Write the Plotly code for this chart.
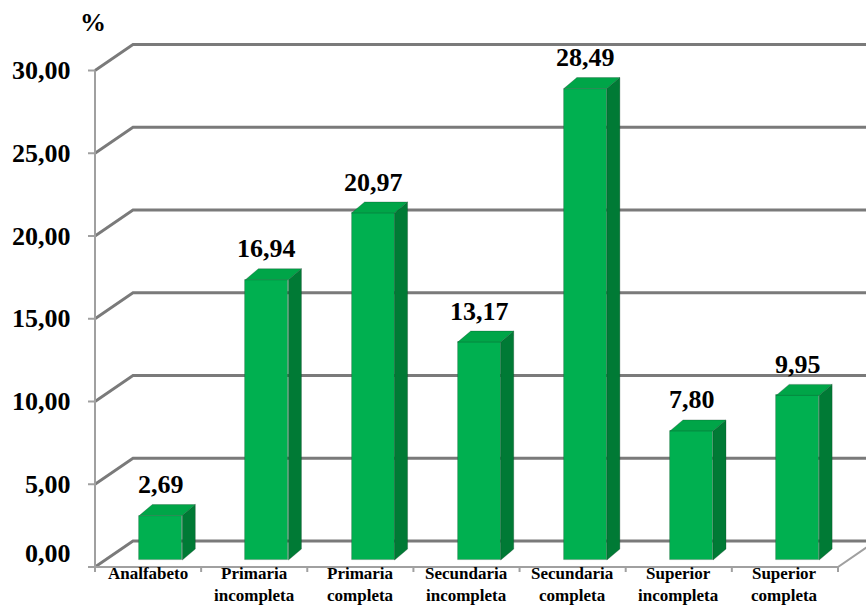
import plotly.graph_objects as go

# Nivel de instrucción (%)
categories = ["Analfabeto", "Primaria<br>incompleta", "Primaria<br>completa",
              "Secundaria<br>incompleta", "Secundaria<br>completa",
              "Superior<br>incompleta", "Superior<br>completa"]
values = [2.69, 16.94, 20.97, 13.17, 28.49, 7.80, 9.95]
y_ticks = [0, 5, 10, 15, 20, 25, 30]
y_tick_labels = ["0,00", "5,00", "10,00", "15,00", "20,00", "25,00", "30,00"]

W, H = 866, 608
# pixel scale of the data axes (category unit / value unit)
PX_CAT = 106.14
PX_VAL = 16.55
X0_PX = 95.0      # front-left corner of the floor
Y0_PX = 567.0     # front floor level

x_range = [-0.5 - X0_PX / PX_CAT, -0.5 + (W - X0_PX) / PX_CAT]
y_range = [-(H - Y0_PX) / PX_VAL, Y0_PX / PX_VAL]

# depth of the walls and of the columns, in data units
DXW, DYW = 38 / PX_CAT, 26 / PX_VAL
BAR_SHIFT_X, BAR_BASE = 0.12, 0.42
BAR_W = 0.405
DXB, DYB = 13 / PX_CAT, 11 / PX_VAL

FRONT, SIDE, TOP = "#00B050", "#007A35", "#00A548"
SERIF = "Liberation Serif"

fig = go.Figure()
shapes = []

# back wall gridlines with the left-wall diagonals
for v in y_ticks:
    shapes.append(dict(
        type="path", xref="x", yref="y", layer="below",
        path=f"M {-0.5},{v} L {-0.5 + DXW},{v + DYW} L {x_range[1]},{v + DYW}",
        line=dict(color="#7a7a7a", width=2.8)))

# front vertical axis
shapes.append(dict(type="line", xref="x", yref="y", layer="below",
                   x0=-0.5, y0=0, x1=-0.5, y1=y_ticks[-1],
                   line=dict(color="#a0a0a0", width=2)))
# y tick marks
for v in y_ticks:
    shapes.append(dict(type="line", xref="x", yref="y", layer="below",
                       x0=-0.5 - 7 / PX_CAT, y0=v, x1=-0.5, y1=v,
                       line=dict(color="#a0a0a0", width=2)))
# floor front edge and right diagonal
n = len(categories)
shapes.append(dict(
    type="path", xref="x", yref="y", layer="below",
    path=f"M {-0.5 - 7 / PX_CAT},0 L {n - 0.5},0 L {n - 0.5 + DXW},{DYW}",
    line=dict(color="#a0a0a0", width=2)))
# category boundary ticks
for k in range(n + 1):
    shapes.append(dict(type="line", xref="x", yref="y", layer="below",
                       x0=k - 0.5, y0=0, x1=k - 0.5, y1=-5 / PX_VAL,
                       line=dict(color="#a0a0a0", width=2)))

# column front faces
xs = [i + BAR_SHIFT_X for i in range(n)]
fig.add_trace(go.Bar(
    x=xs, y=values, base=BAR_BASE, width=BAR_W,
    marker=dict(color=FRONT, line=dict(color="rgba(40,70,50,0.35)", width=0.8)),
    hoverinfo="skip", showlegend=False))

# column side and top faces
for xc, v in zip(xs, values):
    xl, xr = xc - BAR_W / 2, xc + BAR_W / 2
    b, t = BAR_BASE, v + BAR_BASE
    fig.add_trace(go.Scatter(
        x=[xr, xr + DXB, xr + DXB, xr, xr],
        y=[b, b + DYB, t + DYB, t, b],
        mode="lines", fill="toself", fillcolor=SIDE,
        line=dict(color="rgba(20,60,35,0.35)", width=0.8),
        hoverinfo="skip", showlegend=False))
    fig.add_trace(go.Scatter(
        x=[xl, xl + DXB, xr + DXB, xr, xl],
        y=[t, t + DYB, t + DYB, t, t],
        mode="lines", fill="toself", fillcolor=TOP,
        line=dict(color="rgba(20,60,35,0.35)", width=0.8),
        hoverinfo="skip", showlegend=False))


def bold(s):
    return "<b>" + s.replace("<br>", "</b><br><b>") + "</b>"


annotations = []
# value labels
for xc, v in zip(xs, values):
    annotations.append(dict(
        x=xc, y=v + BAR_BASE, xref="x", yref="y", yshift=31,
        text=bold(f"{v:.2f}".replace(".", ",")), showarrow=False,
        xanchor="center", yanchor="middle",
        font=dict(family=SERIF, size=26, color="#000000")))
# y tick labels
for v, lab in zip(y_ticks, y_tick_labels):
    annotations.append(dict(
        x=-0.5, y=v, xref="x", yref="y", xshift=-22, yshift=14 if v == 0 else 0,
        text=bold(lab), showarrow=False, xanchor="right", yanchor="middle",
        font=dict(family=SERIF, size=26, color="#000000")))
# category labels
for i, cat in enumerate(categories):
    annotations.append(dict(
        x=i, y=0, xref="x", yref="y", yshift=5,
        text=bold(cat), showarrow=False, xanchor="center", yanchor="top",
        font=dict(family=SERIF, size=17, color="#000000")))
# unit
annotations.append(dict(
    x=-0.5, y=y_ticks[-1], xref="x", yref="y", xshift=-2, yshift=48,
    text=bold("%"), showarrow=False, xanchor="center", yanchor="middle",
    font=dict(family=SERIF, size=26, color="#000000")))

fig.update_layout(
    width=W, height=H,
    margin=dict(l=0, r=0, t=0, b=0),
    paper_bgcolor="white", plot_bgcolor="white",
    xaxis=dict(range=x_range, visible=False, fixedrange=True),
    yaxis=dict(range=y_range, visible=False, fixedrange=True),
    shapes=shapes, annotations=annotations,
    bargap=0,
)

fig.write_html("out.html")
